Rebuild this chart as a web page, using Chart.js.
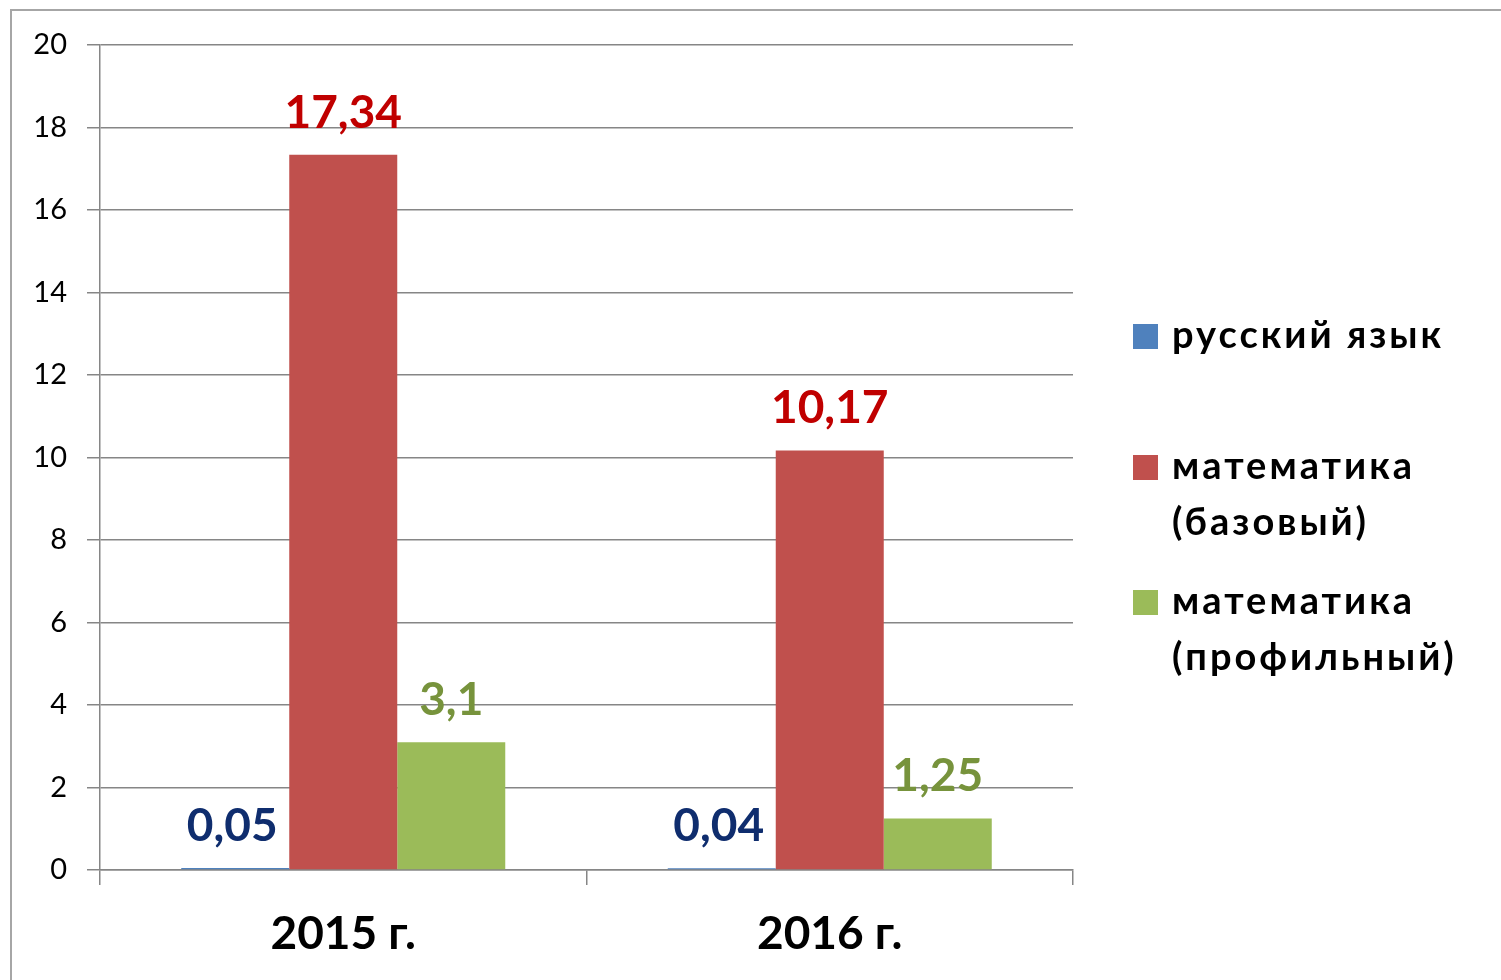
<!DOCTYPE html>
<html>
<head>
  <title>Chart</title>
  <script src="https://cdn.jsdelivr.net/npm/chart.js"></script>
  <style>
    html, body { margin: 0; padding: 0; background: #fff; }
    #wrap { width: 1501px; height: 980px; position: relative; }
  </style>
</head>
<body>
  <div id="wrap"><canvas id="chart"></canvas></div>
  <script>
    const years = ['2015 г.', '2016 г.'];
    const seriesNames = [['русский язык'], ['математика', '(базовый)'], ['математика', '(профильный)']];
    const russian = [0.05, 0.04];
    const mathBase = [17.34, 10.17];
    const mathProf = [3.1, 1.25];
    const yTicks = [0, 2, 4, 6, 8, 10, 12, 14, 16, 18, 20];

    const barColors = ['#4F81BD', '#C0504D', '#9BBB59'];
    const labelColors = ['#0F2D6E', '#C00000', '#77933C'];
    const gridColor = '#868686';
    const FONT = 'Lato, "Open Sans", sans-serif';

    // outer frame, value labels and the right-hand legend
    const extras = {
      id: 'extras',
      beforeDraw(chart) {
        const ctx = chart.ctx;
        ctx.save();
        ctx.fillStyle = '#fff';
        ctx.fillRect(0, 0, chart.width, chart.height);
        ctx.strokeStyle = '#A6A6A6';
        ctx.lineWidth = 2;
        ctx.beginPath();
        ctx.moveTo(11, chart.height);
        ctx.lineTo(11, 10);
        ctx.lineTo(chart.width, 10);
        ctx.stroke();
        ctx.restore();
      },
      afterDatasetsDraw(chart) {
        const ctx = chart.ctx;
        ctx.save();
        ctx.font = 'bold 46px ' + FONT;
        ctx.textAlign = 'center';
        ctx.textBaseline = 'alphabetic';
        chart.data.datasets.forEach((ds, i) => {
          chart.getDatasetMeta(i).data.forEach((bar, j) => {
            ctx.fillStyle = labelColors[i];
            const dx = i === 0 ? -3 : 0;
            ctx.fillText(String(ds.data[j]).replace('.', ','), bar.x + dx, bar.y - 27);
          });
        });

        // legend
        const area = chart.chartArea;
        const lx = area.right + 60;
        const rows = [336, 467, 602];
        ctx.font = 'bold 38px ' + FONT;
        ctx.letterSpacing = '3px';
        ctx.textAlign = 'left';
        ctx.textBaseline = 'middle';
        seriesNames.forEach((lines, i) => {
          ctx.fillStyle = barColors[i];
          ctx.fillRect(lx, rows[i] - 12, 25, 25);
          ctx.fillStyle = '#000';
          lines.forEach((t, k) => ctx.fillText(t, lx + 39, rows[i] + k * 56));
        });
        ctx.restore();
      }
    };

    new Chart(document.getElementById('chart'), {
      type: 'bar',
      data: {
        labels: years,
        datasets: [
          { label: seriesNames[0].join(' '), data: russian, backgroundColor: barColors[0] },
          { label: seriesNames[1].join(' '), data: mathBase, backgroundColor: barColors[1] },
          { label: seriesNames[2].join(' '), data: mathProf, backgroundColor: barColors[2] }
        ]
      },
      options: {
        responsive: true,
        maintainAspectRatio: false,
        animation: false,
        events: [],
        layout: { padding: { top: 45, right: 428, left: 0, bottom: 0 } },
        datasets: { bar: { categoryPercentage: 0.666, barPercentage: 1 } },
        plugins: { legend: { display: false }, tooltip: { enabled: false } },
        scales: {
          x: {
            grid: { drawOnChartArea: false, color: gridColor, lineWidth: 1.5, tickLength: 15, offset: true },
            border: { color: gridColor, width: 1.5 },
            ticks: { color: '#000', font: { family: FONT, size: 46, weight: 'bold' }, padding: 22 },
            afterFit(s) { s.height = 110; }
          },
          y: {
            min: 0, max: 20,
            afterBuildTicks(s) { s.ticks = yTicks.map(v => ({ value: v })); },
            grid: { color: gridColor, lineWidth: 1.5, tickLength: 13 },
            border: { color: gridColor, width: 1.5 },
            ticks: { color: '#000', font: { family: FONT, size: 29 }, padding: 20 },
            afterFit(s) { s.width = 100; }
          }
        }
      },
      plugins: [extras]
    });
  </script>
</body>
</html>
